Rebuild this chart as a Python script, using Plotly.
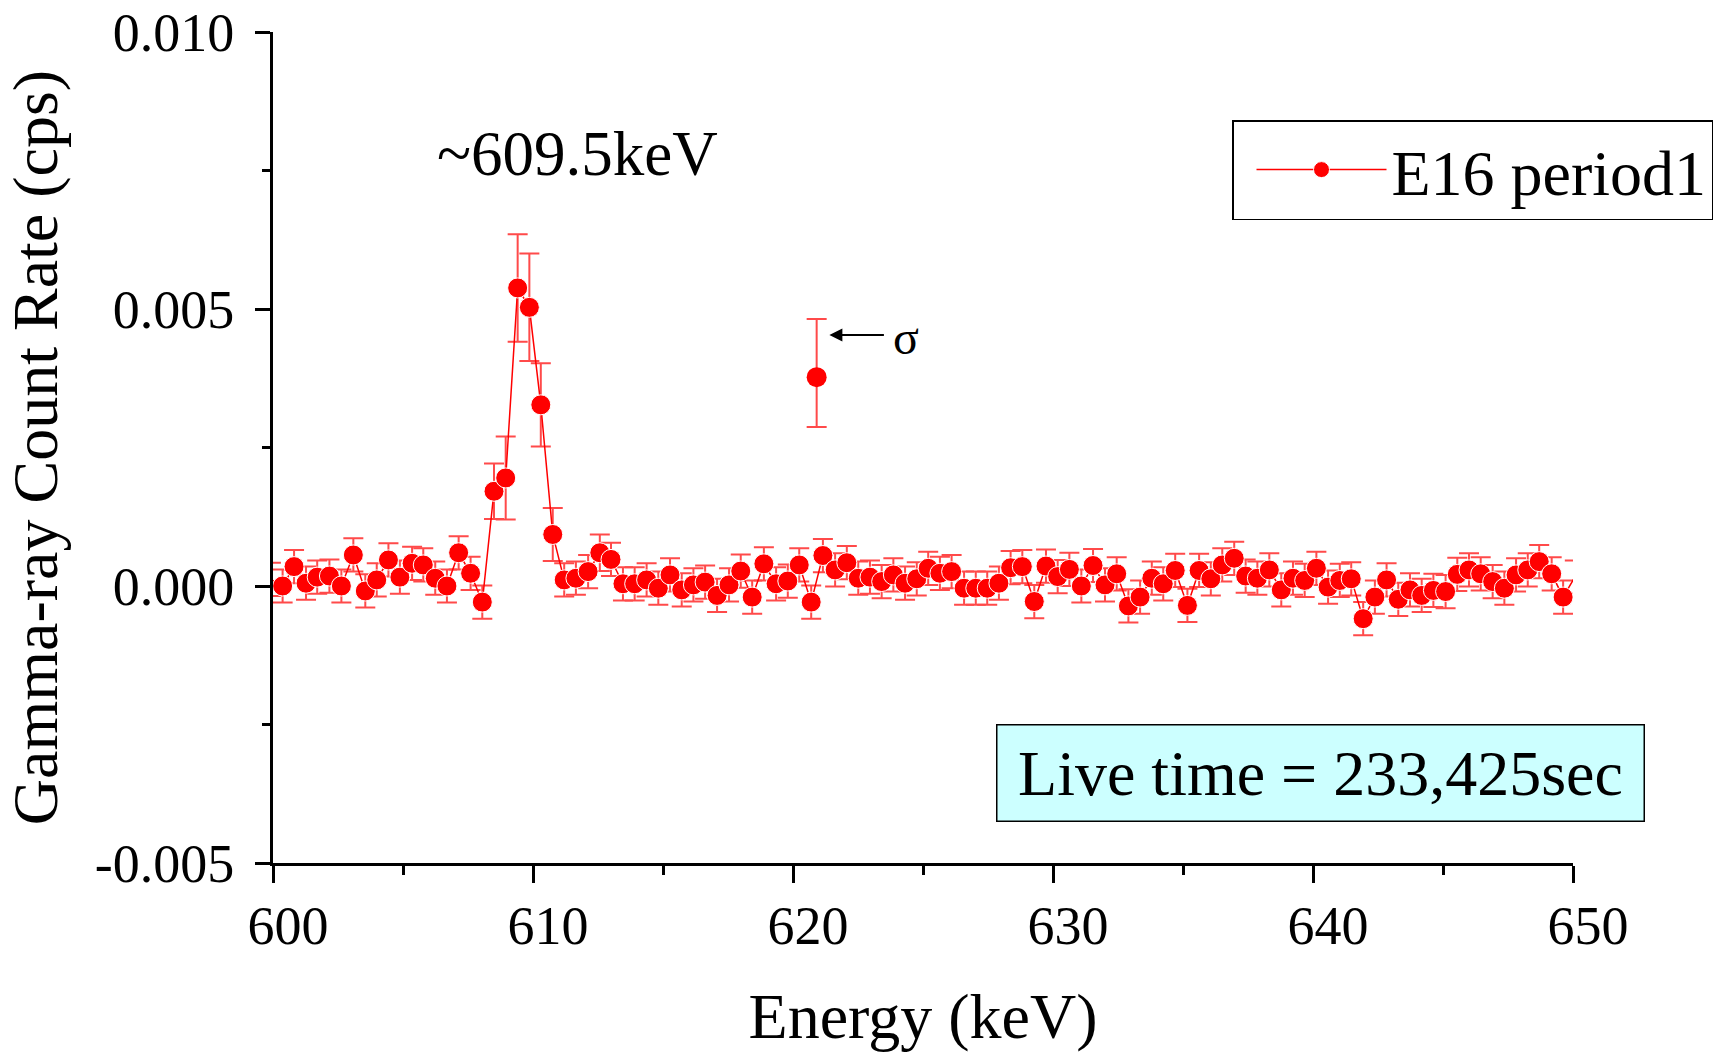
import plotly.graph_objects as go

# ---------------- data ----------------
energy_kev = [
    599.92,
    600.37, 600.81, 601.27, 601.70, 602.17, 602.63, 603.09, 603.55, 603.99, 604.44,
    604.88, 605.35, 605.78, 606.24, 606.69, 607.14, 607.60, 608.05, 608.50, 608.95,
    609.41, 609.86, 610.30, 610.76, 611.20, 611.65, 612.12, 612.57, 613.00, 613.46,
    613.91, 614.37, 614.82, 615.27, 615.72, 616.17, 616.62, 617.08, 617.54, 617.99,
    618.43, 618.88, 619.35, 619.80, 620.24, 620.70, 621.15, 621.62, 622.07, 622.51,
    622.96, 623.41, 623.86, 624.31, 624.76, 625.20, 625.65, 626.10, 626.58, 627.03,
    627.47, 627.92, 628.37, 628.82, 629.28, 629.73, 630.18, 630.63, 631.09, 631.54,
    632.00, 632.45, 632.90, 633.35, 633.80, 634.24, 634.70, 635.17, 635.62, 636.07,
    636.51, 636.97, 637.41, 637.86, 638.32, 638.78, 639.23, 639.68, 640.13, 640.58,
    641.03, 641.47, 641.93, 642.38, 642.83, 643.28, 643.73, 644.18, 644.63, 645.10,
    645.55, 646.00, 646.45, 646.91, 647.36, 647.81, 648.26, 648.70, 649.18, 649.62,
    650.07,
]
count_rate_cps = [
    0.00012,
    0.00000, 0.00035, 0.00005, 0.00016, 0.00018, 0.00000, 0.00056, -0.00009, 0.00011, 0.00047,
    0.00016, 0.00041, 0.00038, 0.00014, 0.00000, 0.00060, 0.00023, -0.00029, 0.00171, 0.00195,
    0.00538, 0.00503, 0.00327, 0.00093, 0.00011, 0.00014, 0.00026, 0.00060, 0.00048, 0.00004,
    0.00004, 0.00011, -0.00004, 0.00020, -0.00007, 0.00002, 0.00007, -0.00017, 0.00002, 0.00027,
    -0.00020, 0.00040, 0.00004, 0.00009, 0.00038, -0.00029, 0.00055, 0.00029, 0.00042, 0.00014,
    0.00016, 0.00008, 0.00020, 0.00005, 0.00013, 0.00032, 0.00023, 0.00026, -0.00004, -0.00004,
    -0.00004, 0.00005, 0.00033, 0.00035, -0.00028, 0.00036, 0.00017, 0.00030, 0.00000, 0.00037,
    0.00002, 0.00022, -0.00036, -0.00020, 0.00014, 0.00004, 0.00028, -0.00035, 0.00028, 0.00013,
    0.00038, 0.00050, 0.00018, 0.00014, 0.00029, -0.00007, 0.00014, 0.00010, 0.00032, -0.00002,
    0.00010, 0.00013, -0.00059, -0.00020, 0.00011, -0.00024, -0.00007, -0.00017, -0.00008, -0.00010,
    0.00021, 0.00029, 0.00022, 0.00008, -0.00004, 0.00020, 0.00029, 0.00044, 0.00022, -0.00020,
    0.00016,
]
count_rate_err = [
    0.00030,
    0.00030, 0.00030, 0.00030, 0.00030, 0.00030, 0.00030, 0.00030, 0.00030, 0.00030, 0.00030,
    0.00030, 0.00030, 0.00030, 0.00030, 0.00030, 0.00030, 0.00030, 0.00030, 0.00050, 0.00075,
    0.00097, 0.00097, 0.00075, 0.00048, 0.00030, 0.00030, 0.00030, 0.00033, 0.00030, 0.00030,
    0.00030, 0.00030, 0.00030, 0.00030, 0.00030, 0.00030, 0.00030, 0.00030, 0.00030, 0.00030,
    0.00030, 0.00030, 0.00030, 0.00030, 0.00030, 0.00030, 0.00030, 0.00030, 0.00030, 0.00030,
    0.00030, 0.00030, 0.00030, 0.00030, 0.00030, 0.00030, 0.00030, 0.00030, 0.00030, 0.00030,
    0.00030, 0.00030, 0.00030, 0.00030, 0.00030, 0.00030, 0.00030, 0.00030, 0.00030, 0.00030,
    0.00030, 0.00030, 0.00030, 0.00030, 0.00030, 0.00030, 0.00030, 0.00030, 0.00030, 0.00030,
    0.00030, 0.00030, 0.00030, 0.00030, 0.00030, 0.00030, 0.00030, 0.00030, 0.00030, 0.00030,
    0.00030, 0.00030, 0.00030, 0.00030, 0.00030, 0.00030, 0.00030, 0.00030, 0.00030, 0.00030,
    0.00030, 0.00030, 0.00030, 0.00030, 0.00030, 0.00030, 0.00030, 0.00030, 0.00030, 0.00030,
    0.00030,
]

# isolated point marked with sigma
spike_energy = [620.91]
spike_rate = [0.00377]
spike_err_plus = [0.00105]
spike_err_minus = [0.00090]

x_range = [600, 650]
y_range = [-0.005, 0.010]
x_tick_vals = [600, 610, 620, 630, 640, 650]
x_tick_text = ["600", "610", "620", "630", "640", "650"]
y_tick_vals = [-0.005, 0.000, 0.005, 0.010]
y_tick_text = ["-0.005", "0.000", "0.005", "0.010"]

series_name = "E16 period1"
peak_label = "~609.5keV"
live_time_label = "Live time = 233,425sec"

# ---------------- figure ----------------
FONT = "Liberation Serif, Times New Roman, serif"
RED = "#ff0000"
ERR = "#ff4a4a"
MSIZE = 20

# points whose centre lies outside the x range only contribute their line / error bar
marker_sizes = [MSIZE if x_range[0] <= e <= x_range[1] else 0 for e in energy_kev]

fig = go.Figure()

fig.add_trace(go.Scatter(
    x=energy_kev, y=count_rate_cps,
    mode="lines+markers",
    name=series_name,
    line=dict(color=RED, width=1.5),
    marker=dict(color=RED, size=marker_sizes, opacity=1),
    error_y=dict(type="data", array=count_rate_err, visible=True,
                 color=ERR, thickness=2, width=10),
))

fig.add_trace(go.Scatter(
    x=spike_energy, y=spike_rate,
    mode="markers",
    showlegend=False,
    marker=dict(color=RED, size=MSIZE, opacity=1),
    error_y=dict(type="data", array=spike_err_plus, arrayminus=spike_err_minus,
                 symmetric=False, visible=True, color=ERR, thickness=2, width=10),
))

W, H = 1725, 1052
ML, MR, MT, MB = 273, 152, 32, 189
PW, PH = W - ML - MR, H - MT - MB

fig.update_layout(
    width=W, height=H,
    margin=dict(l=ML, r=MR, t=MT, b=MB, autoexpand=False),
    paper_bgcolor="white", plot_bgcolor="white",
    font=dict(family=FONT, color="black"),
    showlegend=True,
    legend=dict(
        x=(1232 - ML) / PW, xanchor="left",
        y=(H - MB - 120) / PH, yanchor="top",
        bgcolor="white", bordercolor="black", borderwidth=1.5,
        font=dict(family=FONT, size=64, color="black"),
        itemwidth=130, indentation=18,
    ),
)

fig.update_xaxes(
    range=x_range,
    tickmode="array", tickvals=x_tick_vals, ticktext=x_tick_text,
    ticks="outside", ticklen=17, tickwidth=3, tickcolor="black",
    minor=dict(dtick=5, tick0=600, ticks="outside", ticklen=9, tickwidth=3, tickcolor="black"),
    showline=True, linewidth=3, linecolor="black",
    showgrid=False, zeroline=False,
    tickfont=dict(family=FONT, size=54, color="black"),
    ticklabelstandoff=-4, ticklabelshift=15,
    ticklabeloverflow="allow",
    title=dict(text="Energy (keV)", font=dict(family=FONT, size=64, color="black"), standoff=56),
)

fig.update_yaxes(
    range=y_range,
    tickmode="array", tickvals=y_tick_vals, ticktext=y_tick_text,
    ticks="outside", ticklen=15, tickwidth=3, tickcolor="black",
    minor=dict(dtick=0.0025, tick0=0, ticks="outside", ticklen=8, tickwidth=3, tickcolor="black"),
    showline=True, linewidth=3, linecolor="black",
    showgrid=False, zeroline=False,
    tickfont=dict(family=FONT, size=54, color="black"),
    ticklabelstandoff=10,
    ticklabeloverflow="allow",
    title=dict(text="Gamma-ray Count Rate (cps)", font=dict(family=FONT, size=64, color="black"), standoff=34),
)

# peak label
fig.add_annotation(x=611.71, y=0.00780, xref="x", yref="y", text=peak_label,
                   showarrow=False, font=dict(family=FONT, size=63, color="black"))

# sigma arrow
fig.add_annotation(x=621.40, y=0.00453, xref="x", yref="y", text="",
                   showarrow=True, ax=56, ay=0, axref="pixel", ayref="pixel",
                   arrowhead=2, arrowsize=1.3, arrowwidth=2, arrowcolor="black", standoff=0)
fig.add_annotation(x=624.33, y=0.00449, xref="x", yref="y", text="σ",
                   showarrow=False, font=dict(family=FONT, size=48, color="black"))

# live time box
fig.add_annotation(x=(1320.5 - ML) / PW, y=(H - MB - 772.5) / PH,
                   xref="paper", yref="paper", xanchor="center", yanchor="middle",
                   text=live_time_label, showarrow=False,
                   bgcolor="#ccffff", bordercolor="black", borderwidth=1.5, borderpad=0,
                   width=646, height=95,
                   font=dict(family=FONT, size=64, color="black"))

fig.write_html("out.html", config={"displayModeBar": False},
               post_script="document.body.style.margin='0';")
